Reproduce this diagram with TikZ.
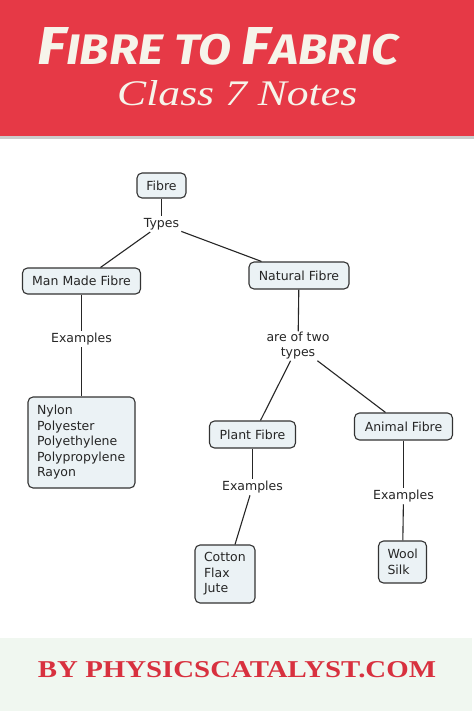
\documentclass[tikz,border=0pt]{standalone}
\usepackage{fontspec}
\setmainfont{DejaVu Sans}
\newfontfamily\titlefont{Fira Sans}
\newfontfamily\serifit{Liberation Serif}
\newfontfamily\footfont{Liberation Serif}
\usepackage{graphicx}
\definecolor{banner}{HTML}{E63946}
\definecolor{cream}{HTML}{F6F4EA}
\definecolor{footbg}{HTML}{F0F7F0}
\definecolor{foottext}{HTML}{D8313F}
\definecolor{boxfill}{HTML}{EBF2F5}
\definecolor{boxline}{HTML}{333333}
\tikzset{
  cbox/.style={draw=boxline, fill=boxfill, rounded corners=5pt, line width=1.1pt, inner sep=0pt, font=\fontsize{12.5}{15.5}\selectfont, text=black!85},
  lbl/.style={inner sep=2pt, font=\fontsize{12.5}{15}\selectfont, text=black!85, align=center},
  link/.style={draw=black!85, line width=1.1pt}
}
\newcommand{\bigF}[1]{{\fontsize{40}{40}\selectfont #1}}
\newcommand{\smc}[1]{{\fontsize{32}{32}\selectfont #1}}
\begin{document}
\begin{tikzpicture}[x=1pt,y=-1pt]
\useasboundingbox (0,0) rectangle (474,711);
\fill[white] (0,0) rectangle (474,711);
% banner
\fill[banner] (0,0) rectangle (474,136);
\fill[black!20] (0,136) rectangle (474,139);
\node[text=cream, inner sep=0pt, anchor=west] (title) at (37,46.5)
  {\resizebox{361pt}{37pt}{\titlefont\bfseries\itshape \bigF{F}\smc{IBRE\ TO\ }\bigF{F}\smc{ABRIC}}};
\node[text=cream, inner sep=0pt, anchor=west] (sub) at (117,93)
  {\resizebox{240pt}{25pt}{\serifit\itshape\fontsize{30}{30}\selectfont Class 7 Notes}};
% footer
\fill[footbg] (0,638) rectangle (472,711);
\node[text=foottext, inner sep=0pt] (foot) at (237,670)
  {\resizebox{398pt}{16pt}{\footfont\bfseries\fontsize{20}{20}\selectfont BY PHYSICSCATALYST.COM}};
% nodes
\node[cbox, minimum width=49pt, minimum height=25pt] (fibre) at (161.5,185.5) {Fibre};
\node[lbl] (types) at (161.5,224) {Types};
\node[cbox, minimum width=118pt, minimum height=26pt] (man) at (81.5,281) {Man Made Fibre};
\node[cbox, minimum width=100pt, minimum height=27pt] (nat) at (299,275.5) {Natural Fibre};
\node[lbl] (ex1) at (81.5,339) {Examples};
\node[cbox, minimum height=91pt, text width=89pt, align=left, inner xsep=9pt] (list) at (81.5,442.5)
  {Nylon\\Polyester\\Polyethylene\\Polypropylene\\Rayon};
\node[lbl, inner sep=1pt] (two) at (298,346) {are of two\\types};
\node[cbox, minimum width=86pt, minimum height=27pt] (plant) at (252.5,434.5) {Plant Fibre};
\node[cbox, minimum width=98pt, minimum height=27pt] (animal) at (403.5,426.5) {Animal Fibre};
\node[lbl] (ex2) at (252.5,487) {Examples};
\node[lbl] (ex3) at (403.5,496) {Examples};
\node[cbox, minimum height=58pt, text width=42pt, align=left, inner xsep=9pt] (cotton) at (225,574)
  {Cotton\\Flax\\Jute};
\node[cbox, minimum height=42pt, text width=30pt, align=left, inner xsep=9pt] (wool) at (402.5,562)
  {Wool\\Silk};
% links
\draw[link] (fibre) -- (types);
\draw[link] (types) -- (man);
\draw[link] (types) -- (nat);
\draw[link] (man) -- (ex1);
\draw[link] (ex1) -- (list);
\draw[link] (nat) -- (two);
\draw[link] (two) -- ([xshift=8pt]plant.north);
\draw[link] (two) -- ([xshift=-18pt]animal.north);
\draw[link] (plant) -- (ex2);
\draw[link] (ex2) -- ([xshift=10pt]cotton.north);
\draw[link] (animal) -- (ex3);
\draw[link] (ex3) -- (wool);
\end{tikzpicture}
\end{document}
